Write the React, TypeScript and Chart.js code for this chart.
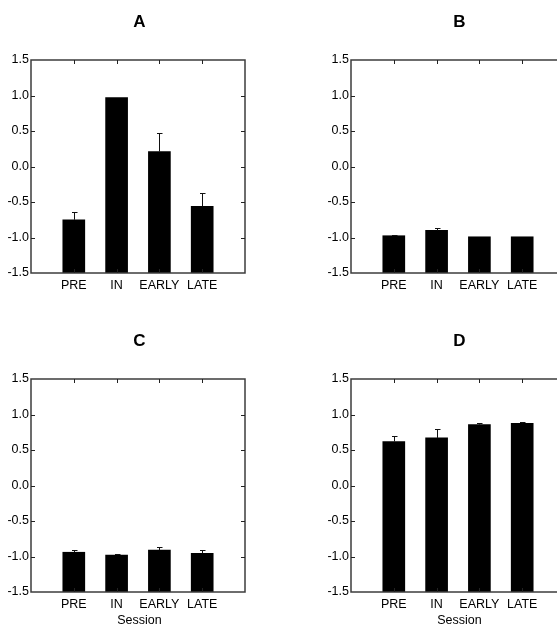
import React, { useEffect, useRef } from 'react';
import { Chart, registerables } from 'chart.js';

Chart.register(...registerables);

// ---- data ----
const sessions = ['PRE', 'IN', 'EARLY', 'LATE'];
const yTicks = [-1.5, -1.0, -0.5, 0.0, 0.5, 1.0, 1.5];
const xAxisTitle = 'Session';

const meanA = [-0.75, 0.97, 0.21, -0.56];
const errA = [0.11, 0.0, 0.26, 0.19];

const meanB = [-0.975, -0.9, -0.99, -0.99];
const errB = [0.01, 0.04, 0.0, 0.0];

const meanC = [-0.94, -0.98, -0.91, -0.955];
const errC = [0.025, 0.02, 0.04, 0.04];

const meanD = [0.62, 0.67, 0.858, 0.876];
const errD = [0.08, 0.12, 0.02, 0.02];

const FONT = '"Liberation Sans", Arial, Helvetica, sans-serif';
const Y_MIN = -1.5;
const Y_MAX = 1.5;

const decorPlugin = {
  id: 'decor',
  afterDatasetsDraw(chart: any, _args: any, opts: any) {
    const { ctx, chartArea, scales } = chart;
    const { left, right, top, bottom } = chartArea;
    const x = scales.x;
    const y = scales.y;
    ctx.save();

    // frame
    ctx.strokeStyle = '#3c3c3c';
    ctx.lineWidth = 1.5;
    ctx.strokeRect(left, top, right - left, bottom - top);

    // inward ticks
    ctx.strokeStyle = '#222';
    ctx.lineWidth = 1;
    ctx.beginPath();
    for (let i = 1; i <= sessions.length; i++) {
      const px = Math.round(x.getPixelForValue(i)) + 0.5;
      ctx.moveTo(px, top);
      ctx.lineTo(px, top + 4);
      ctx.moveTo(px, bottom);
      ctx.lineTo(px, bottom - 4);
    }
    yTicks.forEach((v) => {
      if (v <= Y_MIN || v >= Y_MAX) return;
      const py = Math.round(y.getPixelForValue(v)) + 0.5;
      ctx.moveTo(left, py);
      ctx.lineTo(left + 4, py);
      ctx.moveTo(right, py);
      ctx.lineTo(right - 4, py);
    });
    ctx.stroke();

    // error bars (upper only)
    const meta = chart.getDatasetMeta(0);
    const means: number[] = opts.means || [];
    const errs: number[] = opts.errs || [];
    ctx.strokeStyle = '#111';
    ctx.lineWidth = 1;
    ctx.beginPath();
    means.forEach((m, i) => {
      const e = errs[i];
      if (!e) return;
      const el = meta.data[i + 1];
      if (!el) return;
      const cx = Math.round(el.x) + 0.5;
      const yv = y.getPixelForValue(m);
      const ye = Math.round(y.getPixelForValue(m + e)) + 0.5;
      ctx.moveTo(cx, yv);
      ctx.lineTo(cx, ye);
      ctx.moveTo(cx - 2.5, ye);
      ctx.lineTo(cx + 3, ye);
    });
    ctx.stroke();

    // panel title
    ctx.fillStyle = '#000';
    ctx.textAlign = 'center';
    ctx.textBaseline = 'alphabetic';
    ctx.font = `bold 17px ${FONT}`;
    ctx.fillText(opts.title || '', (left + right) / 2 + 1.5, 26.5);

    // x axis title
    if (opts.xTitle) {
      ctx.font = `12.5px ${FONT}`;
      ctx.fillStyle = '#000';
      ctx.fillText(opts.xTitle, (left + right) / 2 + 1.5, bottom + 31.5);
    }
    ctx.restore();
  },
};

type PanelProps = {
  title: string;
  means: number[];
  errs: number[];
  left: number;
  top: number;
  height: number;
  showXTitle: boolean;
};

function Panel({ title, means, errs, left, top, height, showXTitle }: PanelProps) {
  const ref = useRef<HTMLCanvasElement | null>(null);
  useEffect(() => {
    if (!ref.current) return;
    const labels = ['', ...sessions, ''];
    const values = [null, ...means, null];
    const xAxisHeight = height - 273;
    const chart = new Chart(ref.current, {
      type: 'bar',
      data: {
        labels,
        datasets: [
          {
            data: values as any,
            backgroundColor: '#000',
            borderWidth: 0,
            barThickness: 22,
            base: Y_MIN,
          } as any,
        ],
      },
      options: {
        responsive: false,
        animation: false,
        layout: { padding: { left: 0, right: 33, top: 60, bottom: 0 } },
        plugins: {
          legend: { display: false },
          tooltip: { enabled: false },
          title: { display: false },
          decor: { title, means, errs, xTitle: showXTitle ? xAxisTitle : '' },
        } as any,
        scales: {
          x: {
            type: 'category',
            offset: false,
            grid: { display: false, drawTicks: false },
            border: { display: false },
            ticks: {
              autoSkip: false,
              maxRotation: 0,
              minRotation: 0,
              padding: 5,
              color: '#000',
              font: { family: FONT, size: 12.5 },
            },
            afterFit: (s: any) => {
              s.height = xAxisHeight;
            },
          },
          y: {
            type: 'linear',
            min: Y_MIN,
            max: Y_MAX,
            grid: { display: false, drawTicks: false },
            border: { display: false },
            ticks: {
              padding: 2,
              color: '#000',
              font: { family: FONT, size: 12.5 },
              callback: (v: any) => Number(v).toFixed(1),
            },
            afterBuildTicks: (s: any) => {
              s.ticks = yTicks.map((v) => ({ value: v }));
            },
            afterFit: (s: any) => {
              s.width = 31;
            },
          },
        } as any,
      },
      plugins: [decorPlugin as any],
    });
    return () => chart.destroy();
  }, [title, means, errs, height, showXTitle]);

  return (
    <canvas
      ref={ref}
      width={278}
      height={height}
      style={{ position: 'absolute', left, top, width: 278, height }}
    />
  );
}

export default function App() {
  return (
    <div
      style={{
        position: 'fixed',
        left: 0,
        top: 0,
        width: 557,
        height: 627,
        overflow: 'hidden',
        background: '#fff',
      }}
    >
      <Panel title="A" means={meanA} errs={errA} left={0} top={0} height={300} showXTitle={false} />
      <Panel title="B" means={meanB} errs={errB} left={320} top={0} height={300} showXTitle={false} />
      <Panel title="C" means={meanC} errs={errC} left={0} top={319} height={308} showXTitle={true} />
      <Panel title="D" means={meanD} errs={errD} left={320} top={319} height={308} showXTitle={true} />
    </div>
  );
}
